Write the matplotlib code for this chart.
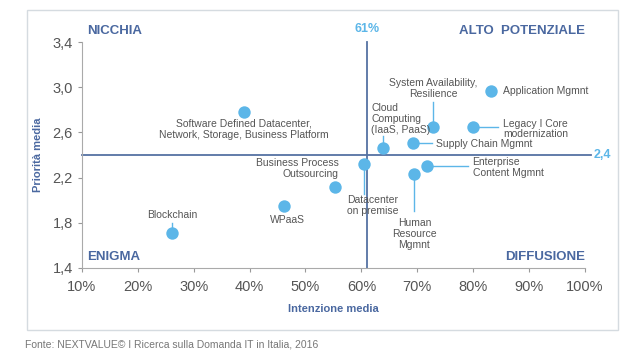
import matplotlib
matplotlib.use("Agg")
import matplotlib.pyplot as plt
from matplotlib.patches import Rectangle
from matplotlib.ticker import FuncFormatter

plt.rcParams["font.family"] = ["Liberation Sans", "DejaVu Sans"]

# Data (x = intenzione media %, y = priorita media)
names = [
    "Software Defined Datacenter,\nNetwork, Storage, Business Platform",
    "Blockchain",
    "WPaaS",
    "Business Process\nOutsourcing",
    "Datacenter\non premise",
    "Human\nResource\nMgmnt",
    "Enterprise\nContent Mgmnt",
    "Cloud\nComputing\n(IaaS, PaaS)",
    "Supply Chain Mgmnt",
    "System Availability,\nResilience",
    "Legacy I Core\nmodernization",
    "Application Mgmnt",
]
intenzione = [39.0, 26.1, 46.2, 55.3, 60.5, 69.5, 71.8, 63.9, 69.3, 72.9, 79.9, 83.1]
priorita = [2.78, 1.71, 1.95, 2.12, 2.32, 2.23, 2.30, 2.46, 2.51, 2.65, 2.65, 2.97]

# label anchor (x, y, ha)
label_pos = [
    (39.0, 2.72, "center"),
    (26.1, 1.87, "center"),
    (46.8, 1.82, "center"),
    (55.9, 2.28, "right"),
    (57.5, 1.95, "left"),
    (69.5, 1.70, "center"),
    (79.9, 2.29, "left"),
    (61.8, 2.72, "left"),
    (73.3, 2.50, "left"),
    (72.9, 2.99, "center"),
    (85.3, 2.63, "left"),
    (85.3, 2.97, "left"),
]
leader_end = [None, (26.1, 1.80), None, None, (60.5, 2.05), (69.5, 1.90),
              (79.0, 2.30), (63.9, 2.57), (72.7, 2.51), (72.9, 2.87), (84.5, 2.65), None]

x_ticks = [10, 20, 30, 40, 50, 60, 70, 80, 90, 100]
y_ticks = [1.4, 1.8, 2.2, 2.6, 3.0, 3.4]
soglia_x = 61
soglia_y = 2.4

dot_color = "#5cb6e8"
line_color = "#5572a3"
quad_color = "#4a68a0"
text_color = "#555555"

fig = plt.figure(figsize=(6.4, 3.6), dpi=100)
fig.patches.append(Rectangle((0.042, 0.083), 0.923, 0.889, transform=fig.transFigure,
                             fill=False, edgecolor="#d5dbe0", linewidth=1.0))
ax = fig.add_axes([0.128, 0.256, 0.786, 0.627])

ax.set_xlim(10, 100)
ax.set_ylim(1.4, 3.4)
ax.set_xticks(x_ticks)
ax.set_yticks(y_ticks)
ax.xaxis.set_major_formatter(FuncFormatter(lambda v, p: f"{v:.0f}%"))
ax.yaxis.set_major_formatter(FuncFormatter(lambda v, p: f"{v:.1f}".replace(".", ",")))
ax.tick_params(colors="#999999", labelcolor="#555555", labelsize=10.5, length=3)
ax.tick_params(axis="x", pad=6)
for s in ["top", "right"]:
    ax.spines[s].set_visible(False)
for s in ["left", "bottom"]:
    ax.spines[s].set_color("#aaaaaa")

# thresholds
ax.plot([10, 101], [soglia_y, soglia_y], color=line_color, lw=1.3, clip_on=False, zorder=1)
ax.plot([soglia_x, soglia_x], [1.4, 3.4], color=line_color, lw=1.3, clip_on=False, zorder=1)
ax.text(101.6, soglia_y, "2,4", color=dot_color, fontsize=9, fontweight="bold",
        va="center", ha="left", clip_on=False)
ax.text(soglia_x, 3.46, "61%", color=dot_color, fontsize=9, fontweight="bold",
        va="bottom", ha="center", clip_on=False)

# leaders and points
for i in range(len(names)):
    if leader_end[i] is not None:
        ax.plot([intenzione[i], leader_end[i][0]], [priorita[i], leader_end[i][1]],
                color=dot_color, lw=1, zorder=2, clip_on=False)
ax.scatter(intenzione, priorita, s=80, color=dot_color, zorder=3, clip_on=False, linewidths=0)

for i, name in enumerate(names):
    lx, ly, ha = label_pos[i]
    va = "top" if i == 0 else "center"
    ax.text(lx, ly, name, fontsize=7.5, color=text_color, ha=ha, va=va,
            multialignment=ha, linespacing=1.1)

# quadrant labels
ax.text(11, 3.5, "NICCHIA", color=quad_color, fontsize=9.5, fontweight="bold", va="center")
ax.text(100, 3.5, "ALTO  POTENZIALE", color=quad_color, fontsize=9.5, fontweight="bold",
        va="center", ha="right")
ax.text(11, 1.5, "ENIGMA", color=quad_color, fontsize=9.5, fontweight="bold", va="center")
ax.text(100, 1.5, "DIFFUSIONE", color=quad_color, fontsize=9.5, fontweight="bold",
        va="center", ha="right")

ax.set_xlabel("Intenzione media", color=quad_color, fontsize=8, fontweight="bold", labelpad=7)
ax.set_ylabel("Priorità media", color=quad_color, fontsize=8, fontweight="bold", labelpad=7)

fig.text(0.039, 0.042, "Fonte: NEXTVALUE\u00a9 I Ricerca sulla Domanda IT in Italia, 2016",
         fontsize=7.5, color="#777777", va="center")

fig.savefig("out.png", dpi=100)
